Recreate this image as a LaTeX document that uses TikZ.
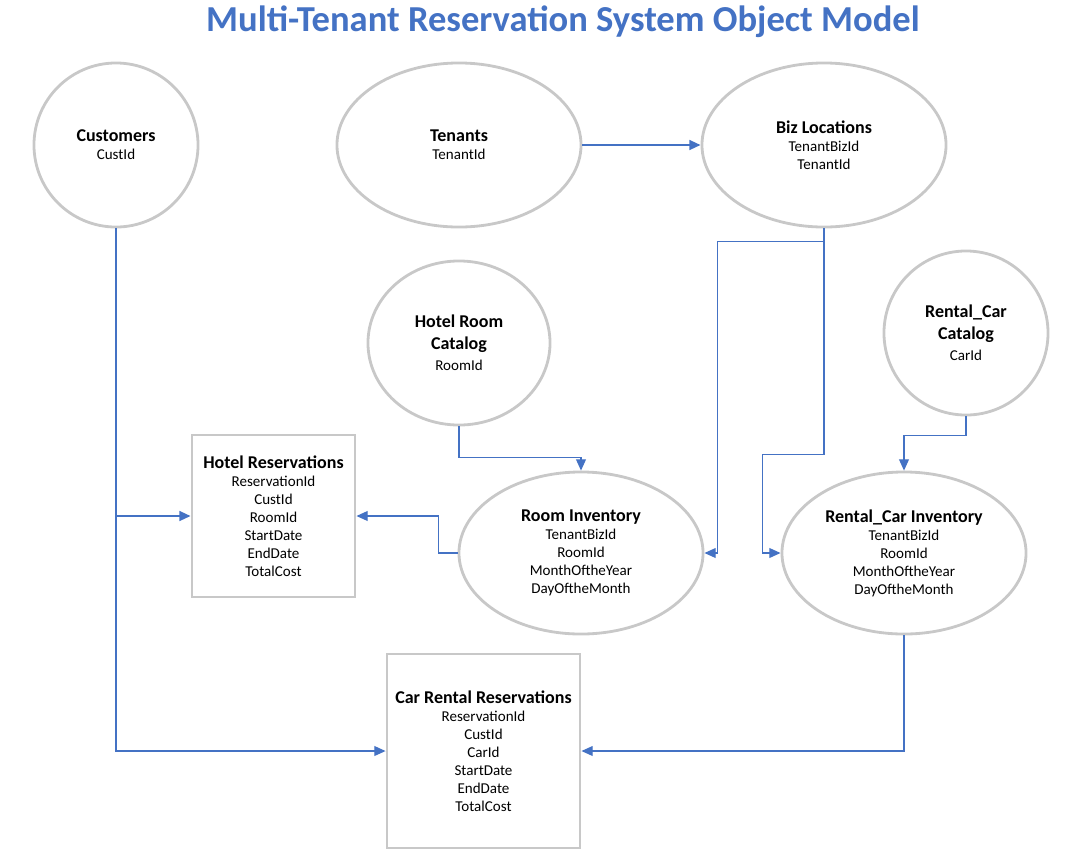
\documentclass[tikz,border=0pt]{standalone}
\usepackage{fontspec}
\setmainfont{Carlito}
\usetikzlibrary{arrows.meta,calc,shapes.geometric}
\definecolor{linkblue}{HTML}{4472C4}
\definecolor{shapegray}{HTML}{C8C8C8}
\tikzset{
    entity/.style={
        ellipse,
        draw=shapegray,
        line width=2pt,
        inner sep=0pt,
        align=center,
        font=\fontsize{10.7}{12.8}\selectfont
    },
    tablebox/.style={
        rectangle,
        draw=shapegray,
        line width=2pt,
        inner sep=0pt,
        align=center,
        font=\fontsize{10.7}{12.8}\selectfont
    },
    link/.style={
        -{Triangle[length=8pt,width=7pt]},
        line width=0.9pt,
        color=linkblue
    },
    mainlink/.style={
        link,
        line width=1.5pt
    }
}
\newcommand{\hd}[1]{{\bfseries\fontsize{12.8}{14.5}\selectfont #1}}

\begin{document}
\begin{tikzpicture}[x=0.025cm,y=-0.025cm]

    \useasboundingbox (0,0) rectangle (1066,857);

    % Title
    \node[
        linkblue,
        font=\bfseries\fontsize{26}{30}\selectfont
    ] (title)
        at (563,22)
        {Multi-Tenant Reservation System Object Model};

    % Top row
    \node[entity, minimum width=4.1cm, minimum height=4.1cm] (cust)
        at (116,145)
        {\hd{Customers}\\CustId};

    \node[entity, minimum width=6.1cm, minimum height=4.1cm] (tenants)
        at (459,145)
        {\hd{Tenants}\\TenantId};

    \node[entity, minimum width=6.1cm, minimum height=4.1cm] (biz)
        at (824,145)
        {\hd{Biz Locations}\\TenantBizId\\TenantId};

    % Catalogs
    \node[entity, minimum width=4.55cm, minimum height=4.1cm] (hrcat)
        at (459,343)
        {\hd{Hotel Room}\\[3pt]\hd{Catalog}\\[2pt]RoomId};

    \node[entity, minimum width=4.1cm, minimum height=4.1cm] (rccat)
        at (966,333)
        {\hd{Rental\_Car}\\[3pt]\hd{Catalog}\\[2pt]CarId};

    % Inventories
    \node[entity, minimum width=6.1cm, minimum height=4.05cm] (roominv)
        at (581,553)
        {\hd{Room Inventory}\\TenantBizId\\RoomId\\MonthOftheYear\\DayOftheMonth};

    \node[entity, minimum width=6.1cm, minimum height=4.05cm] (rcinv)
        at (904,553)
        {\hd{Rental\_Car Inventory}\\TenantBizId\\RoomId\\MonthOftheYear\\DayOftheMonth};

    % Reservations
    \node[tablebox, minimum width=4.075cm, minimum height=4.05cm] (hotelres)
        at (273.5,516)
        {\hd{Hotel Reservations}\\ReservationId\\CustId\\RoomId\\StartDate\\EndDate\\TotalCost};

    \node[tablebox, minimum width=4.825cm, minimum height=4.85cm] (carres)
        at (483.5,751)
        {\hd{Car Rental Reservations}\\ReservationId\\CustId\\CarId\\StartDate\\EndDate\\TotalCost};

    % Links
    \draw[mainlink] (tenants.east) -- (biz.west);

    \draw[mainlink] (cust.south) |- (hotelres.west);

    \draw[link] (cust.south) |- (carres.west);

    \draw[link] (hrcat.south) -- ++(0,31) -| (roominv.north);

    \draw[link] (roominv.west) -- ++(-19,0) |- (hotelres.east);

    \draw[link] (biz.south) -- ++(0,13) -| ($(roominv.east)+(13,0)$) -- (roominv.east);

    \draw[link] (biz.south) -- ++(0,226) -| ($(rcinv.west)+(-18,0)$) -- (rcinv.west);

    \draw[link] (rccat.south) -- ++(0,19) -| (rcinv.north);

    \draw[link] (rcinv.south) |- (carres.east);

\end{tikzpicture}
\end{document}
